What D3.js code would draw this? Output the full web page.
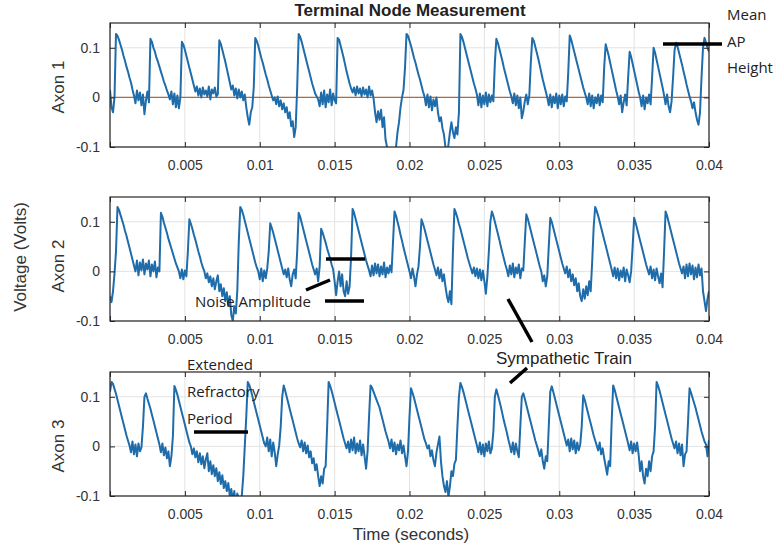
<!DOCTYPE html>
<html>
<head>
<meta charset="utf-8">
<script src="https://cdn.jsdelivr.net/npm/d3@7"></script>
<style>
  body { margin: 0; background: #fff; }
  svg { display: block; }
</style>
</head>
<body>
<svg id="chart" width="774" height="550"></svg>
<script>
// sampling interval of the traces (seconds)
const sampleStep = 0.0001;

// traces, in millivolts, one sample per 0.1 ms
const axon1 = [
  15, -20, -30, 0, 128, 124, 116, 106, 96, 84,
  74, 62, 52, 40, 30, 16, 4, -12, 14, -6,
  10, -16, 6, -34, -6, 12, -10, 118, 112, 100,
  92, 80, 72, 62, 52, 42, 32, 24, 14, 6,
  -4, 12, -14, 8, -20, 4, -22, 0, 112, 106,
  96, 84, 72, 60, 48, 36, 24, 12, 22, 4,
  18, 0, 20, 6, 14, 2, 22, -4, 16, 8,
  20, 2, 6, 115, 108, 96, 84, 72, 58, 44,
  30, 16, 24, 4, 18, -2, 16, 0, 12, -6,
  6, -20, -40, -55, -30, -20, 20, 120, 114, 104,
  92, 80, 70, 58, 46, 36, 24, 14, 4, -6,
  0, -14, 2, -18, -6, -24, -12, -30, -20, -42,
  -30, -58, -48, -80, -60, 20, 128, 122, 112, 100,
  88, 76, 64, 52, 40, 28, 18, 8, 2, -4,
  -18, 10, -14, 14, -20, 6, -10, 16, -16, 8,
  -6, -12, 120, 116, 104, 92, 80, 66, 52, 40,
  28, 18, 10, 20, 4, 22, 8, 18, 2, 20,
  6, 16, 0, 22, 4, 14, -2, -30, -50, -28,
  -45, -25, -60, -40, -85, -100, -125, -140, -130, -145,
  -120, -100, -70, -50, -20, 0, 15, 60, 128, 124,
  114, 104, 92, 80, 70, 58, 46, 36, 24, 12,
  2, -16, 6, -20, 2, -26, -4, -18, 0, -30,
  -48, -40, -62, -75, -100, -120, -95, -70, -50, -70,
  -82, -60, -75, -30, 128, 122, 112, 100, 88, 76,
  64, 52, 40, 28, 18, 6, -16, 8, -20, 4,
  -14, 10, -18, 6, -10, 4, -8, 70, 118, 110,
  98, 86, 74, 60, 48, 36, 24, 12, 2, -12,
  8, -16, 4, -22, 0, -42, -28, -8, 6, -14,
  4, 70, 120, 114, 102, 90, 78, 64, 50, 36,
  24, 12, 0, -16, 6, -20, 2, -12, 8, -22,
  4, -14, 6, -18, 2, -8, 50, 125, 116, 104,
  92, 80, 68, 56, 44, 32, 20, 10, 0, -14,
  8, -18, 4, -22, 0, -12, 6, -16, 4, -10,
  60, 107, 96, 84, 70, 56, 42, 28, 14, 2,
  -14, 4, -30, -10, 6, -16, 40, 92, 82, 68,
  54, 40, 26, 12, 0, -18, 4, -24, 0, -12,
  6, -14, 40, 100, 90, 76, 62, 48, 34, 20,
  4, -14, 6, -18, -30, -8, 40, 95, 110, 102,
  90, 78, 66, 52, 40, 26, 14, 2, -8, -22,
  -10, -30, -45, -55, -30, 40, 100, 120, 110, 100,
  92
];

const axon2 = [
  -50, -62, -40, -5, 40, 130, 124, 114, 104, 94,
  82, 72, 60, 48, 36, 24, 12, 0, 22, -8,
  18, 2, 24, -6, 16, 4, 22, -10, 14, 0,
  20, -12, 8, 0, 118, 110, 98, 88, 78, 66,
  56, 46, 36, 26, 16, 8, 0, -14, 4, -16,
  2, -10, 40, 105, 96, 86, 74, 64, 52, 40,
  30, 18, 8, 0, -14, -4, -22, -10, -30, -14,
  -36, -20, -8, -40, -26, -50, -34, -60, -42, -70,
  -50, -88, -100, -70, -85, -40, 60, 130, 124, 114,
  102, 90, 78, 66, 54, 42, 30, 18, 8, 0,
  -16, 6, -20, 2, -14, 6, 40, 97, 88, 78,
  66, 54, 42, 30, 18, 6, -6, 4, -12, 6,
  -16, -30, -6, 4, -14, 40, 118, 110, 98, 86,
  74, 62, 50, 38, 26, 14, 4, -6, 6, -20,
  10, 86, 78, 68, 58, 46, 36, 26, 14, 4,
  -20, -48, -20, 0, -30, -6, -40, -50, -20, -45,
  -30, 30, 126, 118, 106, 94, 82, 70, 58, 46,
  34, 22, 12, 2, -10, 12, -8, 16, -4, 14,
  -10, 10, -6, 18, -12, 8, -4, 12, -2, 60,
  121, 112, 100, 88, 74, 62, 48, 36, 24, 12,
  0, -14, 6, -10, -30, -6, 10, 50, 105, 96,
  86, 74, 62, 50, 38, 26, 14, 4, -8, 8,
  -14, 4, -20, -6, -30, -50, -62, -40, -66, 40,
  126, 118, 108, 96, 86, 74, 62, 50, 38, 26,
  16, 6, -4, 8, -10, 6, -14, 4, -18, 2,
  -20, -45, -10, 40, 100, 121, 112, 100, 88, 76,
  64, 50, 38, 26, 14, 4, -10, 12, -6, 16,
  -12, 8, -4, 14, -14, 6, 2, 60, 115, 106,
  94, 82, 70, 58, 46, 34, 22, 10, 0, -20,
  -8, -30, -10, 50, 108, 100, 88, 76, 64, 52,
  40, 28, 16, 6, -4, 10, -12, 4, -20, -6,
  -28, -14, -40, -24, -50, -60, -36, -55, -30, -48,
  -20, -40, 20, 90, 130, 122, 112, 100, 88, 76,
  64, 52, 40, 28, 16, 4, -10, 8, -14, 6,
  -18, 2, -12, 8, -20, 4, -8, -22, 0, 50,
  108, 98, 86, 74, 62, 50, 38, 26, 14, 4,
  -6, 10, -14, 4, -18, 6, -10, -24, -4, -32,
  40, 121, 112, 100, 88, 76, 64, 52, 40, 28,
  16, 6, -4, 10, -14, 14, -10, 16, -6, 12,
  -16, 8, -12, 14, -8, 6, -40, -60, -80, -55,
  -40
];

const axon3 = [
  110, 130, 126, 116, 106, 94, 82, 70, 58, 46,
  34, 22, 12, 2, -12, 10, -16, 4, -20, 6,
  -10, -2, 40, 100, 107, 96, 86, 76, 64, 52,
  40, 28, 16, 4, -12, 6, -18, -2, -24, -10,
  -40, -20, 20, 122, 114, 104, 92, 80, 68, 56,
  44, 32, 20, 8, 0, -16, -4, -22, -10, -32,
  -14, -36, -20, -44, -26, -14, -50, -30, -56, -38,
  -60, -44, -70, -52, -76, -58, -84, -70, -90, -74,
  -100, -86, -110, -90, -120, -95, -105, -125, -100, -60,
  0, 60, 130, 124, 114, 102, 90, 78, 66, 54,
  42, 30, 18, 6, 0, 18, -10, 14, -20, 8,
  -12, -40, -16, 2, 40, 100, 123, 112, 100, 88,
  76, 64, 52, 40, 28, 16, 6, -2, 12, -10,
  8, -14, 2, -22, -10, -34, -24, -48, -36, -60,
  -80, -60, -75, -45, -40, 40, 130, 122, 112, 100,
  88, 76, 64, 52, 40, 28, 16, 6, -4, 10,
  -12, 14, -8, 18, -14, 6, -10, 12, -18, 4,
  -20, -45, -10, 60, 123, 118, 110, 102, 94, 86,
  78, 66, 54, 42, 30, 20, 10, -4, 14, -10,
  8, -16, 4, -8, 12, -14, 2, -20, -40, -10,
  60, 117, 108, 98, 86, 74, 62, 50, 38, 26,
  14, 6, -4, 2, -20, -8, -28, -40, -12, 4,
  20, -30, -60, -80, -92, -70, -102, -80, -50, -60,
  -35, -27, 40, 100, 128, 120, 110, 98, 86, 74,
  62, 50, 38, 26, 14, 2, -12, 8, -16, 4,
  -20, 6, -10, 10, -14, -4, 30, 100, 115, 104,
  92, 80, 66, 52, 40, 28, 14, 2, -12, 8,
  -16, 6, -10, -22, 40, 100, 107, 96, 84, 72,
  60, 48, 36, 24, 12, 2, -8, -20, -6, -30,
  -45, -20, -30, 40, 110, 121, 110, 98, 86, 74,
  62, 50, 38, 26, 14, 2, 14, -10, 16, -6,
  12, -14, 8, -8, 4, 40, 103, 94, 82, 70,
  58, 46, 34, 22, 12, 2, -8, 8, -16, -4,
  -24, -40, -57, -30, -40, 50, 123, 114, 102, 90,
  78, 66, 54, 42, 30, 18, 6, -8, 10, -14,
  6, -10, 8, -16, -50, -30, -60, -75, -45, -60,
  -30, -50, -20, -10, 40, 130, 122, 112, 100, 88,
  76, 64, 52, 40, 28, 16, 6, -4, 10, -14,
  6, -18, 4, -40, -16, -10, 50, 117, 108, 98,
  88, 78, 66, 54, 42, 30, 20, 10, 4, -20,
  13
];

const axonNames = ['Axon 1', 'Axon 2', 'Axon 3'];
const xTicks = [0, 0.005, 0.01, 0.015, 0.02, 0.025, 0.03, 0.035, 0.04];
const yTicks = [-0.1, 0, 0.1];

const svg = d3.select('#chart');

const margin = { left: 110, right: 65 };
const panelTops = [23, 197, 372];
const panelHeight = 124;
const labelCenters = [87, 266, 446];
const lineColor = '#1f6cab';
const tickFont = '"Liberation Sans", Arial, sans-serif';

const x = d3.scaleLinear()
  .domain([0, 0.04])
  .range([margin.left, 774 - margin.right]);

const traces = [axon1, axon2, axon3];

traces.forEach((trace, k) => {
  const top = panelTops[k];
  const y = d3.scaleLinear()
    .domain([-0.1, 0.15])
    .range([top + panelHeight, top]);

  const g = svg.append('g');

  // grid
  g.append('g')
    .selectAll('line')
    .data(xTicks)
    .enter()
    .append('line')
    .attr('x1', (d) => x(d)).attr('x2', (d) => x(d))
    .attr('y1', top).attr('y2', top + panelHeight)
    .attr('stroke', '#e3e3e3');
  g.append('g')
    .selectAll('line')
    .data(yTicks)
    .enter()
    .append('line')
    .attr('x1', x(0)).attr('x2', x(0.04))
    .attr('y1', (d) => y(d)).attr('y2', (d) => y(d))
    .attr('stroke', '#e3e3e3');

  // clip the trace to the box
  svg.append('clipPath')
    .attr('id', `clip${k}`)
    .append('rect')
    .attr('x', x(0)).attr('y', top)
    .attr('width', x(0.04) - x(0)).attr('height', panelHeight);

  // zero reference line on the first axon
  if (k === 0) {
    g.append('line')
      .attr('x1', x(0)).attr('x2', x(0.04))
      .attr('y1', y(0)).attr('y2', y(0))
      .attr('stroke', '#b4693c')
      .attr('stroke-width', 1.2);
  }

  const line = d3.line()
    .x((d, i) => x(i * sampleStep))
    .y((d) => y(d / 1000));

  g.append('path')
    .datum(trace)
    .attr('clip-path', `url(#clip${k})`)
    .attr('d', line)
    .attr('fill', 'none')
    .attr('stroke', lineColor)
    .attr('stroke-width', 2)
    .attr('stroke-linejoin', 'round');

  // axes, ticks pointing inward like matlab
  const fmt = (d) => String(+d.toFixed(3));
  g.append('g')
    .attr('transform', `translate(0, ${top + panelHeight})`)
    .call(d3.axisBottom(x).tickValues(xTicks).tickSizeInner(-5).tickSizeOuter(0)
      .tickPadding(13).tickFormat((d) => d === 0 ? '' : fmt(d)));
  g.append('g')
    .attr('transform', `translate(0, ${top})`)
    .call(d3.axisTop(x).tickValues(xTicks).tickSizeInner(-5).tickSizeOuter(0).tickFormat(''));
  g.append('g')
    .attr('transform', `translate(${x(0)}, 0)`)
    .call(d3.axisLeft(y).tickValues(yTicks).tickSizeInner(-5).tickSizeOuter(0)
      .tickPadding(10).tickFormat(fmt));
  g.append('g')
    .attr('transform', `translate(${x(0.04)}, 0)`)
    .call(d3.axisRight(y).tickValues(yTicks).tickSizeInner(-5).tickSizeOuter(0).tickFormat(''));

  g.selectAll('.domain').remove();
  g.selectAll('.tick line').attr('stroke', '#262626');
  g.selectAll('.tick text')
    .attr('fill', '#333')
    .style('font-family', tickFont)
    .style('font-size', '14px');

  // box
  g.append('rect')
    .attr('x', x(0)).attr('y', top)
    .attr('width', x(0.04) - x(0)).attr('height', panelHeight)
    .attr('fill', 'none')
    .attr('stroke', '#262626')
    .attr('stroke-width', 1.2);

  // axon label
  g.append('text')
    .attr('transform', `translate(64, ${labelCenters[k]}) rotate(-90)`)
    .attr('text-anchor', 'middle')
    .attr('fill', '#333')
    .style('font-family', tickFont)
    .style('font-size', '17px')
    .text(axonNames[k]);
});

// title and shared labels
svg.append('text')
  .attr('x', 410).attr('y', 16)
  .attr('text-anchor', 'middle')
  .attr('fill', '#222')
  .style('font-family', tickFont)
  .style('font-size', '17px')
  .style('font-weight', 'bold')
  .text('Terminal Node Measurement');

svg.append('text')
  .attr('transform', 'translate(26, 257) rotate(-90)')
  .attr('text-anchor', 'middle')
  .attr('fill', '#333')
  .style('font-family', tickFont)
  .style('font-size', '17px')
  .text('Voltage (Volts)');

svg.append('text')
  .attr('x', 411).attr('y', 540)
  .attr('text-anchor', 'middle')
  .attr('fill', '#333')
  .style('font-family', tickFont)
  .style('font-size', '17px')
  .text('Time (seconds)');

// hand drawn annotations
const noteFont = '"Open Sans", sans-serif';
const notes = [
  { text: 'Mean', x: 727, y: 20, size: 15, font: noteFont },
  { text: 'AP', x: 727, y: 47, size: 15, font: noteFont },
  { text: 'Height', x: 727, y: 73, size: 15, font: noteFont },
  { text: 'Noise Amplitude', x: 195, y: 307, size: 15, font: noteFont },
  { text: 'Sympathetic Train', x: 496, y: 364, size: 17, font: tickFont },
  { text: 'Extended', x: 187, y: 370, size: 15, font: noteFont },
  { text: 'Refractory', x: 187, y: 397, size: 15, font: noteFont },
  { text: 'Period', x: 187, y: 424, size: 15, font: noteFont }
];
svg.append('g')
  .selectAll('text')
  .data(notes)
  .enter()
  .append('text')
  .attr('x', (d) => d.x)
  .attr('y', (d) => d.y)
  .attr('fill', '#222')
  .style('font-family', (d) => d.font)
  .style('font-size', (d) => `${d.size}px`)
  .text((d) => d.text);

const strokes = [
  [663, 44, 722, 44],
  [326, 259, 365, 259],
  [325, 301, 364, 301],
  [306, 290, 330, 280],
  [508, 299, 532, 342],
  [510, 383, 527, 368],
  [194, 432, 248, 432]
];
svg.append('g')
  .selectAll('line')
  .data(strokes)
  .enter()
  .append('line')
  .attr('x1', (d) => d[0]).attr('y1', (d) => d[1])
  .attr('x2', (d) => d[2]).attr('y2', (d) => d[3])
  .attr('stroke', '#000')
  .attr('stroke-width', 3.5);
</script>
</body>
</html>
